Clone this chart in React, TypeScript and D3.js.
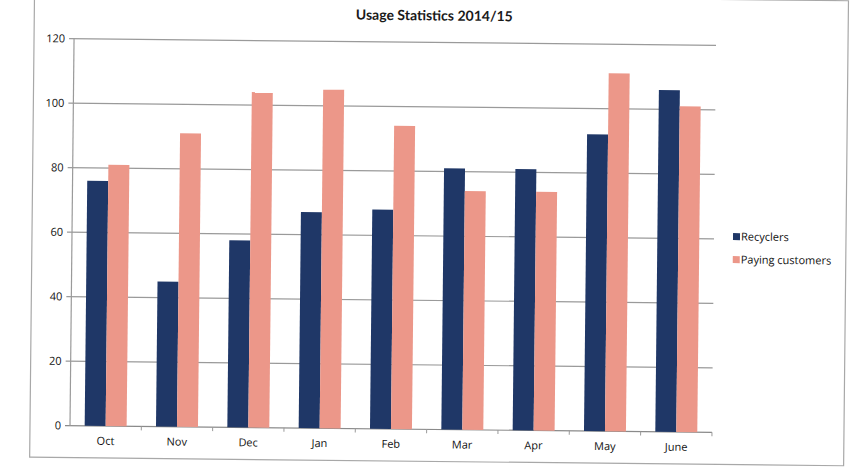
import * as d3 from 'd3';
import React from 'react';

const months = ['Oct', 'Nov', 'Dec', 'Jan', 'Feb', 'Mar', 'Apr', 'May', 'June'];
const recyclers = [76, 45, 58, 67, 68, 81, 81, 92, 106];
const payingCustomers = [81, 91, 104, 105, 94, 74, 74, 111, 101];
const yTicks = [0, 20, 40, 60, 80, 100, 120];
const seriesNames = ['Recyclers', 'Paying customers'];
const seriesColors = ['#1f3767', '#ec9789'];

const W = 861;
const H = 470;
const plot = { left: 72, right: 714, top: 42, bottom: 429 };
// the scan is tilted a little clockwise
const TILT = 0.6;
const FONT = "'Open Sans', 'Noto Sans', sans-serif";

export default function App() {
  const x = d3.scaleBand<string>().domain(months).range([plot.left, plot.right]).paddingInner(0).paddingOuter(0);
  const inner = d3.scaleBand<string>().domain(seriesNames).range([0, x.bandwidth()]).paddingInner(0).paddingOuter(0.7);
  const y = d3.scaleLinear().domain([0, 120]).range([plot.bottom, plot.top]);
  const values = [recyclers, payingCustomers];
  const cx = (plot.left + plot.right) / 2;
  const cy = (plot.top + plot.bottom) / 2;

  return (
    <svg width={W} height={H} style={{ position: 'absolute', left: 0, top: 0, background: '#fff' }}>
      <rect x={0} y={0} width={W} height={H} fill="#fff" />
      <g transform={`rotate(${TILT},${cx},${cy})`}>
        <rect x={32} y={-4} width={814} height={465} fill="none" stroke="#a8a8a8" strokeWidth={1.2} />
        <text x={432} y={20} textAnchor="middle" fontFamily="Lato, sans-serif" fontWeight="bold" fontSize={14} fill="#1a1a1a">
          Usage Statistics 2014/15
        </text>

        {yTicks.map(t => (
          <g key={t}>
            <line x1={plot.left - 5} x2={plot.right} y1={y(t)} y2={y(t)} stroke={t === 0 ? '#8a8a8a' : '#9a9a9a'} strokeWidth={1.2} />
            <text x={plot.left - 9} y={y(t)} dy="0.35em" textAnchor="end" fontFamily={FONT} fontSize={11} fill="#111">
              {t}
            </text>
          </g>
        ))}
        <line x1={plot.left} x2={plot.left} y1={plot.top} y2={plot.bottom} stroke="#9a9a9a" strokeWidth={1.2} />

        {months.map(m => (
          <line key={`tk${m}`} x1={(x(m) ?? 0) + x.bandwidth()} x2={(x(m) ?? 0) + x.bandwidth()} y1={plot.bottom} y2={plot.bottom + 4} stroke="#9a9a9a" />
        ))}

        {months.map((m, i) => (
          <g key={m} transform={`translate(${x(m)},0)`}>
            {values.map((vals, s) => (
              <rect
                key={s}
                x={inner(seriesNames[s])}
                y={y(vals[i])}
                width={inner.bandwidth()}
                height={y(0) - y(vals[i])}
                fill={seriesColors[s]}
              />
            ))}
            <text x={x.bandwidth() / 2} y={plot.bottom + 15} dy="0.35em" textAnchor="middle" fontFamily={FONT} fontSize={11} fill="#111">
              {m}
            </text>
          </g>
        ))}

        {seriesNames.map((name, s) => (
          <g key={name} transform={`translate(733,${233 + s * 23})`}>
            <rect x={0} y={-3.5} width={7} height={7} fill={seriesColors[s]} />
            <text x={8} y={0} dy="0.35em" fontFamily={FONT} fontSize={11} fill="#111">
              {name}
            </text>
          </g>
        ))}
      </g>
    </svg>
  );
}
